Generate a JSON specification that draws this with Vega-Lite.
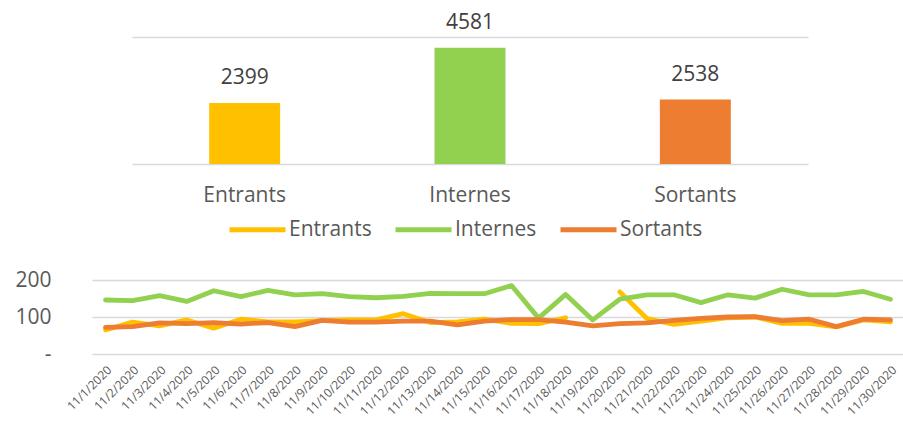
{
  "$schema": "https://vega.github.io/schema/vega-lite/v6.json",
  "padding": {"left": 5, "top": 11, "right": 0, "bottom": 0},
  "background": "white",
  "bounds": "flush",
  "spacing": 116,
  "resolve": {"legend": {"color": "independent"}},
  "config": {"view": {"stroke": null}, "font": "Open Sans"},
  "vconcat": [
    {
      "width": 812,
      "height": 127,
      "data": {"values": [
        {"category": "Entrants", "total": 2399},
        {"category": "Internes", "total": 4581},
        {"category": "Sortants", "total": 2538}
      ]},
      "encoding": {
        "x": {"field": "category", "type": "nominal", "sort": null,
          "scale": {"range": [40, 716], "paddingInner": 0.685, "paddingOuter": 0.3425},
          "axis": {"title": null, "labelAngle": 0, "domain": false, "ticks": false, "labelPadding": 20, "labelFontSize": 21, "labelColor": "#595959", "labelFont": "Open Sans"}},
        "y": {"field": "total", "type": "quantitative", "scale": {"domain": [0, 5000], "nice": false},
          "axis": {"title": null, "values": [0, 5000], "labels": false, "ticks": false, "domain": false, "grid": true, "gridColor": "#d9d9d9", "gridWidth": 1.5, "minExtent": 87, "maxExtent": 87}}
      },
      "layer": [
        {"mark": {"type": "bar"},
         "encoding": {"color": {"field": "category", "type": "nominal", "scale": {"domain": ["Entrants", "Internes", "Sortants"], "range": ["#FFC000", "#92D050", "#ED7D31"]}, "legend": null}}},
        {"mark": {"type": "text", "dy": -25, "baseline": "middle", "fontSize": 21, "color": "#404040", "font": "Open Sans"},
         "encoding": {"text": {"field": "total", "type": "quantitative", "format": "d"}}}
      ]
    },
    {
      "width": 812,
      "height": 74,
      "data": {"values": [
        {"d": "11/1/2020", "s": "Entrants", "v": 65},
        {"d": "11/2/2020", "s": "Entrants", "v": 86},
        {"d": "11/3/2020", "s": "Entrants", "v": 76},
        {"d": "11/4/2020", "s": "Entrants", "v": 92},
        {"d": "11/5/2020", "s": "Entrants", "v": 70},
        {"d": "11/6/2020", "s": "Entrants", "v": 94},
        {"d": "11/7/2020", "s": "Entrants", "v": 87},
        {"d": "11/8/2020", "s": "Entrants", "v": 87},
        {"d": "11/9/2020", "s": "Entrants", "v": 90},
        {"d": "11/10/2020", "s": "Entrants", "v": 92},
        {"d": "11/11/2020", "s": "Entrants", "v": 92},
        {"d": "11/12/2020", "s": "Entrants", "v": 109},
        {"d": "11/13/2020", "s": "Entrants", "v": 85},
        {"d": "11/14/2020", "s": "Entrants", "v": 87},
        {"d": "11/15/2020", "s": "Entrants", "v": 94},
        {"d": "11/16/2020", "s": "Entrants", "v": 83},
        {"d": "11/17/2020", "s": "Entrants", "v": 82},
        {"d": "11/18/2020", "s": "Entrants", "v": 98},
        {"d": "11/19/2020", "s": "Entrants", "v": null},
        {"d": "11/20/2020", "s": "Entrants", "v": 168},
        {"d": "11/21/2020", "s": "Entrants", "v": 96},
        {"d": "11/22/2020", "s": "Entrants", "v": 80},
        {"d": "11/23/2020", "s": "Entrants", "v": 89},
        {"d": "11/24/2020", "s": "Entrants", "v": 98},
        {"d": "11/25/2020", "s": "Entrants", "v": 100},
        {"d": "11/26/2020", "s": "Entrants", "v": 83},
        {"d": "11/27/2020", "s": "Entrants", "v": 83},
        {"d": "11/28/2020", "s": "Entrants", "v": 73},
        {"d": "11/29/2020", "s": "Entrants", "v": 92},
        {"d": "11/30/2020", "s": "Entrants", "v": 87},
        {"d": "11/1/2020", "s": "Internes", "v": 146},
        {"d": "11/2/2020", "s": "Internes", "v": 144},
        {"d": "11/3/2020", "s": "Internes", "v": 158},
        {"d": "11/4/2020", "s": "Internes", "v": 142},
        {"d": "11/5/2020", "s": "Internes", "v": 171},
        {"d": "11/6/2020", "s": "Internes", "v": 155},
        {"d": "11/7/2020", "s": "Internes", "v": 172},
        {"d": "11/8/2020", "s": "Internes", "v": 160},
        {"d": "11/9/2020", "s": "Internes", "v": 163},
        {"d": "11/10/2020", "s": "Internes", "v": 155},
        {"d": "11/11/2020", "s": "Internes", "v": 152},
        {"d": "11/12/2020", "s": "Internes", "v": 156},
        {"d": "11/13/2020", "s": "Internes", "v": 164},
        {"d": "11/14/2020", "s": "Internes", "v": 163},
        {"d": "11/15/2020", "s": "Internes", "v": 163},
        {"d": "11/16/2020", "s": "Internes", "v": 185},
        {"d": "11/17/2020", "s": "Internes", "v": 97},
        {"d": "11/18/2020", "s": "Internes", "v": 161},
        {"d": "11/19/2020", "s": "Internes", "v": 92},
        {"d": "11/20/2020", "s": "Internes", "v": 148},
        {"d": "11/21/2020", "s": "Internes", "v": 160},
        {"d": "11/22/2020", "s": "Internes", "v": 160},
        {"d": "11/23/2020", "s": "Internes", "v": 139},
        {"d": "11/24/2020", "s": "Internes", "v": 160},
        {"d": "11/25/2020", "s": "Internes", "v": 151},
        {"d": "11/26/2020", "s": "Internes", "v": 175},
        {"d": "11/27/2020", "s": "Internes", "v": 160},
        {"d": "11/28/2020", "s": "Internes", "v": 160},
        {"d": "11/29/2020", "s": "Internes", "v": 169},
        {"d": "11/30/2020", "s": "Internes", "v": 148},
        {"d": "11/1/2020", "s": "Sortants", "v": 72},
        {"d": "11/2/2020", "s": "Sortants", "v": 74},
        {"d": "11/3/2020", "s": "Sortants", "v": 84},
        {"d": "11/4/2020", "s": "Sortants", "v": 82},
        {"d": "11/5/2020", "s": "Sortants", "v": 85},
        {"d": "11/6/2020", "s": "Sortants", "v": 81},
        {"d": "11/7/2020", "s": "Sortants", "v": 85},
        {"d": "11/8/2020", "s": "Sortants", "v": 74},
        {"d": "11/9/2020", "s": "Sortants", "v": 91},
        {"d": "11/10/2020", "s": "Sortants", "v": 86},
        {"d": "11/11/2020", "s": "Sortants", "v": 86},
        {"d": "11/12/2020", "s": "Sortants", "v": 89},
        {"d": "11/13/2020", "s": "Sortants", "v": 89},
        {"d": "11/14/2020", "s": "Sortants", "v": 79},
        {"d": "11/15/2020", "s": "Sortants", "v": 89},
        {"d": "11/16/2020", "s": "Sortants", "v": 93},
        {"d": "11/17/2020", "s": "Sortants", "v": 93},
        {"d": "11/18/2020", "s": "Sortants", "v": 86},
        {"d": "11/19/2020", "s": "Sortants", "v": 76},
        {"d": "11/20/2020", "s": "Sortants", "v": 82},
        {"d": "11/21/2020", "s": "Sortants", "v": 84},
        {"d": "11/22/2020", "s": "Sortants", "v": 91},
        {"d": "11/23/2020", "s": "Sortants", "v": 96},
        {"d": "11/24/2020", "s": "Sortants", "v": 100},
        {"d": "11/25/2020", "s": "Sortants", "v": 101},
        {"d": "11/26/2020", "s": "Sortants", "v": 90},
        {"d": "11/27/2020", "s": "Sortants", "v": 94},
        {"d": "11/28/2020", "s": "Sortants", "v": 74},
        {"d": "11/29/2020", "s": "Sortants", "v": 94},
        {"d": "11/30/2020", "s": "Sortants", "v": 92}
      ]},
      "mark": {"type": "line", "strokeWidth": 4.8, "strokeJoin": "round", "strokeCap": "round", "invalid": "break-paths-show-domains"},
      "encoding": {
        "x": {"field": "d", "type": "ordinal", "sort": null, "scale": {"padding": 0.5},
          "axis": {"title": null, "labelAngle": -45, "labelFontSize": 12, "labelColor": "#595959", "domain": false, "ticks": false, "labelPadding": 10, "labelFont": "Open Sans"}},
        "y": {"field": "v", "type": "quantitative", "scale": {"domain": [0, 200], "nice": false},
          "axis": {"title": null, "values": [0, 100, 200], "domain": false, "ticks": false, "grid": true, "gridColor": "#d9d9d9", "gridWidth": 1.5, "labelFontSize": 21, "labelColor": "#595959", "labelFont": "Open Sans", "labelPadding": 41, "minExtent": 87, "maxExtent": 87, "labelExpr": "datum.value == 0 ? '-\u00a0\u00a0' : datum.label"}},
        "color": {"field": "s", "type": "nominal", "sort": null,
          "scale": {"domain": ["Entrants", "Internes", "Sortants"], "range": ["#FFC000", "#92D050", "#ED7D31"]},
          "legend": {"orient": "none", "legendX": 135, "legendY": -81, "direction": "horizontal", "title": null, "padding": 0, "symbolType": "stroke", "symbolSize": 3136, "symbolStrokeWidth": 5, "labelFontSize": 21, "labelColor": "#595959", "labelFont": "Open Sans", "columnPadding": 13, "labelOffset": 1}}
      }
    }
  ]
}
